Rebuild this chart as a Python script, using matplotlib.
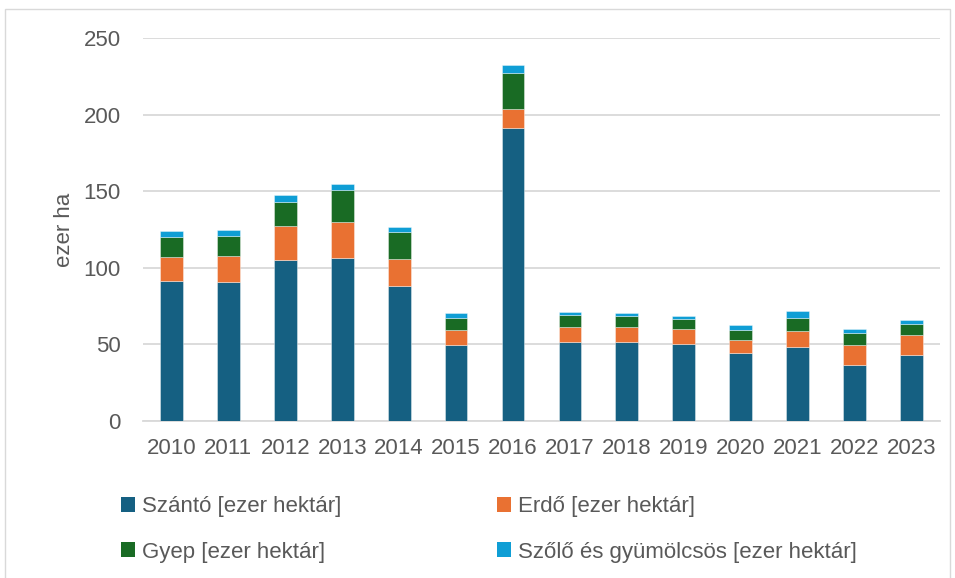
import matplotlib.pyplot as plt
from matplotlib.patches import Rectangle, Patch

plt.rcParams['font.family'] = ['Liberation Sans', 'DejaVu Sans']

# data (ezer hektár)
years = ['2010', '2011', '2012', '2013', '2014', '2015', '2016',
         '2017', '2018', '2019', '2020', '2021', '2022', '2023']
szanto = [91.7, 90.6, 104.8, 106.7, 87.8, 49.4, 191.5,
          51.6, 51.6, 50.4, 44.5, 48.5, 36.5, 43.2]
erdo = [15.3, 17.3, 22.3, 23.2, 18.1, 10.3, 12.0,
        10.0, 10.0, 9.5, 8.3, 10.2, 13.1, 12.7]
gyep = [12.8, 13.1, 15.7, 21.2, 17.2, 7.6, 23.9,
        7.6, 6.9, 6.7, 6.8, 8.8, 8.0, 7.6]
szolo = [4.0, 3.9, 4.4, 3.9, 3.7, 3.5, 5.2,
         2.2, 2.3, 2.2, 3.1, 4.1, 2.3, 2.4]

series = [
    ('Szántó [ezer hektár]', szanto, '#156082'),
    ('Erdő [ezer hektár]', erdo, '#E97132'),
    ('Gyep [ezer hektár]', gyep, '#196B24'),
    ('Szőlő és gyümölcsös [ezer hektár]', szolo, '#0F9ED5'),
]

text_color = '#595959'
grid_color = '#D9D9D9'

fig = plt.figure(figsize=(9.55, 5.78), dpi=100)
ax = fig.add_axes([0.1497, 0.2716, 0.8346, 0.6627])

x = range(len(years))
bottom = [0.0] * len(years)
handles = {}
for name, vals, color in series:
    ax.bar(x, vals, width=0.4, bottom=bottom, color=color,
           edgecolor=(1, 1, 1, 0.45), linewidth=0.6, zorder=3)
    bottom = [b + v for b, v in zip(bottom, vals)]
    handles[name] = Patch(facecolor=color, label=name)

ax.set_xlim(-0.5, len(years) - 0.5)
ax.set_ylim(0, 250)
ax.set_yticks([0, 50, 100, 150, 200, 250])
ax.set_xticks(list(x))
ax.set_xticklabels(years)
ax.yaxis.grid(True, color=grid_color, linewidth=1.3, zorder=0)
ax.set_axisbelow(True)
for side in ['top', 'right', 'left']:
    ax.spines[side].set_visible(False)
ax.spines['bottom'].set_color(grid_color)
ax.spines['bottom'].set_linewidth(1.3)
ax.tick_params(axis='both', length=0, labelsize=16, labelcolor=text_color)
ax.tick_params(axis='y', pad=16)
ax.tick_params(axis='x', pad=12)
ax.set_ylabel('ezer ha', fontsize=16, color=text_color, labelpad=6)

order = ['Szántó [ezer hektár]', 'Gyep [ezer hektár]',
         'Erdő [ezer hektár]', 'Szőlő és gyümölcsös [ezer hektár]']
leg = fig.legend([handles[n] for n in order], order, ncol=2,
                 loc='upper left', bbox_to_anchor=(0.117, 0.157),
                 frameon=False, fontsize=16, handlelength=0.65,
                 handleheight=0.65, handletextpad=0.3, columnspacing=7.0,
                 labelspacing=1.1, borderaxespad=0)
for t in leg.get_texts():
    t.set_color(text_color)

# light frame around the whole chart
fig.patches.append(Rectangle((5 / 955, -0.01), 945 / 955, 1 - 9 / 578 + 0.01,
                             transform=fig.transFigure, fill=False,
                             edgecolor=grid_color, linewidth=1.0))

fig.savefig('out.png', dpi=100)
